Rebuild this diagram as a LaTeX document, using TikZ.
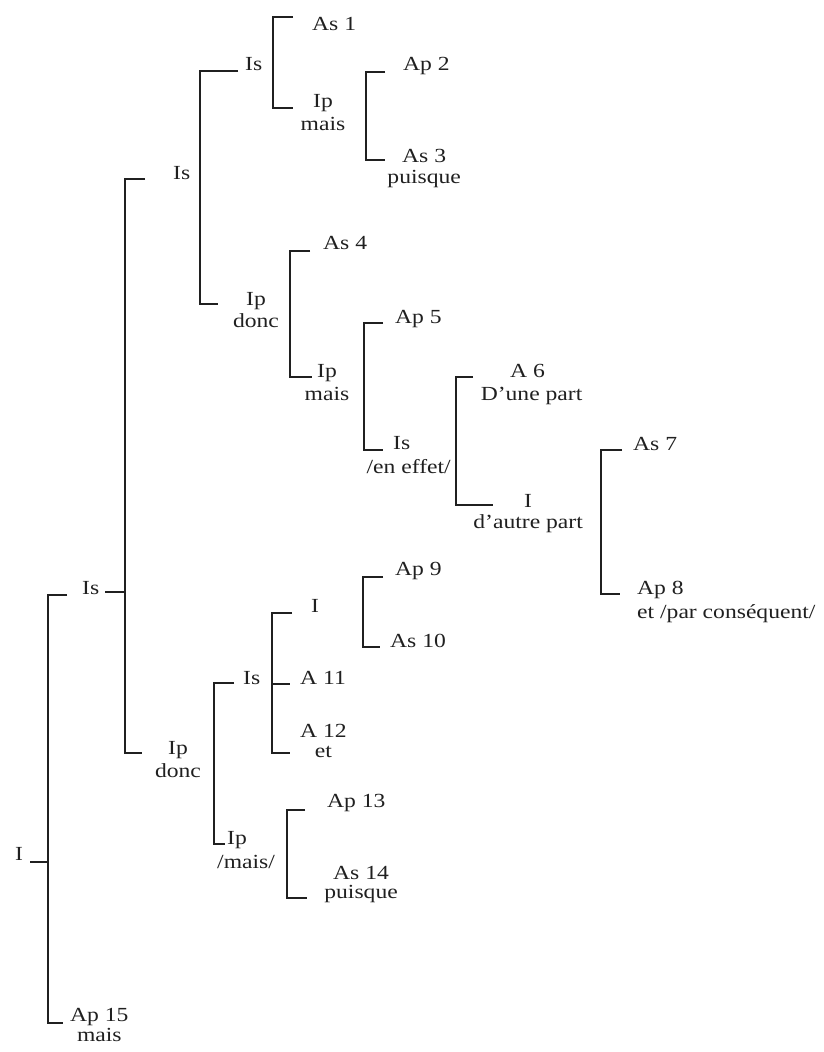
\documentclass[tikz,border=0pt]{standalone}
\usepackage{fontspec}
\setmainfont{Liberation Serif}[FakeStretch=1.18]
\usepackage{tikz}
\usetikzlibrary{positioning}
\definecolor{ink}{HTML}{202020}

\begin{document}
\begin{tikzpicture}[
  x=1pt,y=1pt,
  every node/.style={font=\fontsize{20}{24}\selectfont,text=ink,inner sep=0pt},
  lbl/.style={anchor=base west},
  word/.style={anchor=base},
  brk/.style={line width=2.5pt,draw=ink}
]
\useasboundingbox (0,0) rectangle (824,-1052);

% upper branch
\node[lbl] (isb) at (173,-179) {Is};
\node[lbl] (isc) at (245,-70) {Is};
\node[lbl] (as1) at (312,-30) {As 1};
\node[lbl] (ipd) at (313,-107) {Ip};
\node[word,below=23pt of ipd.base,anchor=base] (ipdw) {mais};
\node[lbl] (ap2) at (403,-70) {Ap 2};
\node[lbl] (as3) at (402,-162) {As 3};
\node[word,below=21pt of as3.base,anchor=base] (as3w) {puisque};
\node[lbl] (ipe) at (246,-305) {Ip};
\node[word,below=22pt of ipe.base,anchor=base] (ipew) {donc};
\node[lbl] (as4) at (323,-249) {As 4};
\node[lbl] (ipf) at (317,-377) {Ip};
\node[word,below=23pt of ipf.base,anchor=base] (ipfw) {mais};
\node[lbl] (ap5) at (395,-323) {Ap 5};
\node[lbl] (isg) at (393,-449) {Is};
\node[word,below=24pt of isg.base,anchor=base,xshift=7pt] (isgw) {/en effet/};
\node[lbl] (a6) at (510,-377) {A 6};
\node[word,below=23pt of a6.base,anchor=base,xshift=4pt] (a6w) {D'une part};
\node[lbl] (ih) at (524,-507) {I};
\node[word,below=21pt of ih.base,anchor=base] (ihw) {d'autre part};
\node[lbl] (as7) at (633,-450) {As 7};
\node[lbl] (ap8) at (637,-594) {Ap 8};
\node[word,below=24pt of ap8.base west,anchor=base west] (ap8w) {et /par conséquent/};

% lower branch
\node[lbl] (isa) at (82,-594) {Is};
\node[lbl] (ipi) at (168,-754) {Ip};
\node[word,below=23pt of ipi.base,anchor=base] (ipiw) {donc};
\node[lbl] (isj) at (243,-684) {Is};
\node[lbl] (ik) at (311,-612) {I};
\node[lbl] (ap9) at (395,-575) {Ap 9};
\node[lbl] (as10) at (390,-647) {As 10};
\node[lbl] (a11) at (300,-684) {A 11};
\node[lbl] (a12) at (300,-737) {A 12};
\node[word,below=20pt of a12.base,anchor=base] (a12w) {et};
\node[lbl] (ipl) at (227,-844) {Ip};
\node[word,below=24pt of ipl.base,anchor=base,xshift=9pt] (iplw) {/mais/};
\node[lbl] (ap13) at (327,-807) {Ap 13};
\node[lbl] (as14) at (333,-879) {As 14};
\node[word,below=19pt of as14.base,anchor=base] (as14w) {puisque};

% root
\node[lbl] (rooti) at (15,-860) {I};
\node[lbl] (ap15) at (70,-1021) {Ap 15};
\node[word,below=20pt of ap15.base,anchor=base] (ap15w) {mais};

% brackets
\draw[brk] ([xshift=-7pt,yshift=-1pt]isc.base west) -- ++(-38pt,0) |- ([xshift=-28pt,yshift=1pt]ipe.base west);
\draw[brk] ([xshift=-19pt,yshift=13pt]as1.base west) -- ++(-20pt,0) |- ([xshift=-20pt,yshift=-1pt]ipd.base west);
\draw[brk] ([xshift=-18pt,yshift=-2pt]ap2.base west) -- ++(-19pt,0) |- ([xshift=-17pt,yshift=2pt]as3.base west);
\draw[brk] ([xshift=-13pt,yshift=-2pt]as4.base west) -- ++(-20pt,0) |- ([xshift=-5pt]ipf.base west);
\draw[brk] ([xshift=-12pt]ap5.base west) -- ++(-19pt,0) |- ([xshift=-10pt,yshift=-1pt]isg.base west);
\draw[brk] ([xshift=-37pt]a6.base west) -- ++(-17pt,0) |- ([xshift=-31pt,yshift=2pt]ih.base west);
\draw[brk] ([xshift=-11pt]as7.base west) -- ++(-21pt,0) |- ([xshift=-17pt]ap8.base west);

\draw[brk] ([xshift=-28pt]isb.base west) -- ++(-20pt,0) coordinate (spa) |- ([xshift=-26pt,yshift=1pt]ipi.base west);
\draw[brk] ([xshift=6pt,yshift=2pt]isa.base east) coordinate (ta) -- (ta -| spa);
\draw[brk] ([xshift=-9pt,yshift=1pt]isj.base west) -- ++(-20pt,0) |- ([xshift=-2pt]ipl.base west);
\draw[brk] ([xshift=-19pt,yshift=-1pt]ik.base west) -- ++(-20pt,0) coordinate (spj) |- ([xshift=-25pt,yshift=4pt]a12w.base west);
\draw[brk] (spj |- a11.base west) -- ([xshift=-10pt]a11.base west);
\draw[brk] ([xshift=-12pt,yshift=-2pt]ap9.base west) -- ++(-20pt,0) |- ([xshift=-10pt]as10.base west);
\draw[brk] ([xshift=-22pt,yshift=-3pt]ap13.base west) -- ++(-18pt,0) |- ([xshift=-17pt]as14w.base west);

\draw[brk] ([xshift=-15pt,yshift=-1pt]isa.base west) -- ++(-19pt,0) coordinate (sproot) |- ([xshift=-7pt,yshift=-2pt]ap15.base west);
\draw[brk] ([xshift=7pt,yshift=-2pt]rooti.base east) coordinate (tr) -- (tr -| sproot);
\end{tikzpicture}
\end{document}
